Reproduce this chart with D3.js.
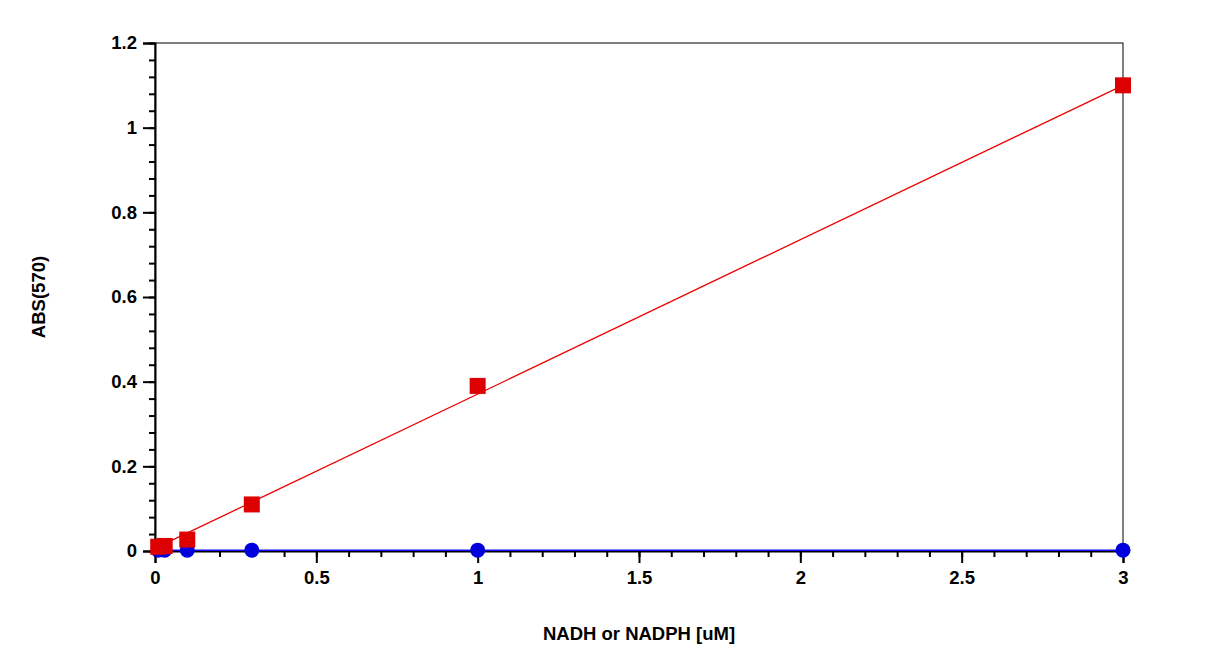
<!DOCTYPE html>
<html><head><meta charset="utf-8">
<script src="https://cdn.jsdelivr.net/npm/d3@7"></script>
<style>body{margin:0;background:#fff}text{font-family:"Liberation Sans",Arial,sans-serif;font-weight:bold}</style>
</head><body>
<svg id="c" width="1227" height="656"></svg>
<script>
var concentrations = [0.01, 0.03, 0.1, 0.3, 1, 3];
var nadhAbs = [0.01, 0.012, 0.027, 0.11, 0.39, 1.1];
var blankAbs = [0.002, 0.002, 0.002, 0.002, 0.002, 0.002];
var fitLine = [[0, 0.006], [3, 1.1]];

var margin = {left: 155, top: 43, right: 104, bottom: 105};
var width = 1227 - margin.left - margin.right,
    height = 656 - margin.top - margin.bottom;

var svg = d3.select("#c");
var g = svg.append("g").attr("transform", "translate(" + margin.left + "," + margin.top + ")");

var x = d3.scaleLinear().domain([0, 3]).range([0, width]);
var y = d3.scaleLinear().domain([0, 1.2]).range([height, 0]);

// frame
g.append("rect").attr("width", width).attr("height", height)
  .attr("fill", "none").attr("stroke", "#000").attr("stroke-width", 1);

// minor ticks
g.append("g").attr("transform", "translate(0," + height + ")")
  .call(d3.axisBottom(x).tickValues(d3.range(0, 3.01, 0.1)).tickSize(6).tickFormat(""))
  .call(a => a.select(".domain").remove());
g.append("g")
  .call(d3.axisLeft(y).tickValues(d3.range(0, 1.201, 0.04)).tickSize(6).tickFormat(""))
  .call(a => a.select(".domain").remove());

var xAxis = g.append("g").attr("transform", "translate(0," + height + ")")
  .call(d3.axisBottom(x).tickValues([0, 0.5, 1, 1.5, 2, 2.5, 3]).tickSize(12).tickPadding(8).tickFormat(d3.format("")));
var yAxis = g.append("g")
  .call(d3.axisLeft(y).tickValues([0, 0.2, 0.4, 0.6, 0.8, 1, 1.2]).tickSize(12).tickPadding(6).tickFormat(d3.format("")));
[xAxis, yAxis].forEach(function(a) {
  a.selectAll("text").attr("font-size", 18.5).attr("fill", "#000");
  a.select(".domain").attr("stroke-width", 2);
});
g.selectAll(".tick line").attr("stroke-width", 2);

// blank series
g.append("path").datum(concentrations.map((c, i) => [c, blankAbs[i]]))
  .attr("fill", "none").attr("stroke", "#1010ff").attr("stroke-width", 1.5)
  .attr("d", d3.line().x(d => x(d[0])).y(d => y(d[1])));
g.selectAll(".blank").data(concentrations).enter().append("circle")
  .attr("cx", d => x(d)).attr("cy", (d, i) => y(blankAbs[i])).attr("r", 7.5)
  .attr("fill", "#0000dd");

// NADH fit
g.append("path").datum(fitLine)
  .attr("fill", "none").attr("stroke", "#ee0000").attr("stroke-width", 1.3)
  .attr("d", d3.line().x(d => x(d[0])).y(d => y(d[1])));
g.selectAll(".nadh").data(concentrations).enter().append("rect")
  .attr("x", d => x(d) - 8).attr("y", (d, i) => y(nadhAbs[i]) - 8)
  .attr("width", 16).attr("height", 16).attr("fill", "#dd0000");

svg.append("text").attr("x", margin.left + width / 2).attr("y", 640)
  .attr("text-anchor", "middle").attr("font-size", 18.5).text("NADH or NADPH [uM]");
svg.append("text").attr("transform", "translate(45," + (margin.top + height / 2) + ") rotate(-90)")
  .attr("text-anchor", "middle").attr("font-size", 18.5).text("ABS(570)");
</script>
</body></html>
